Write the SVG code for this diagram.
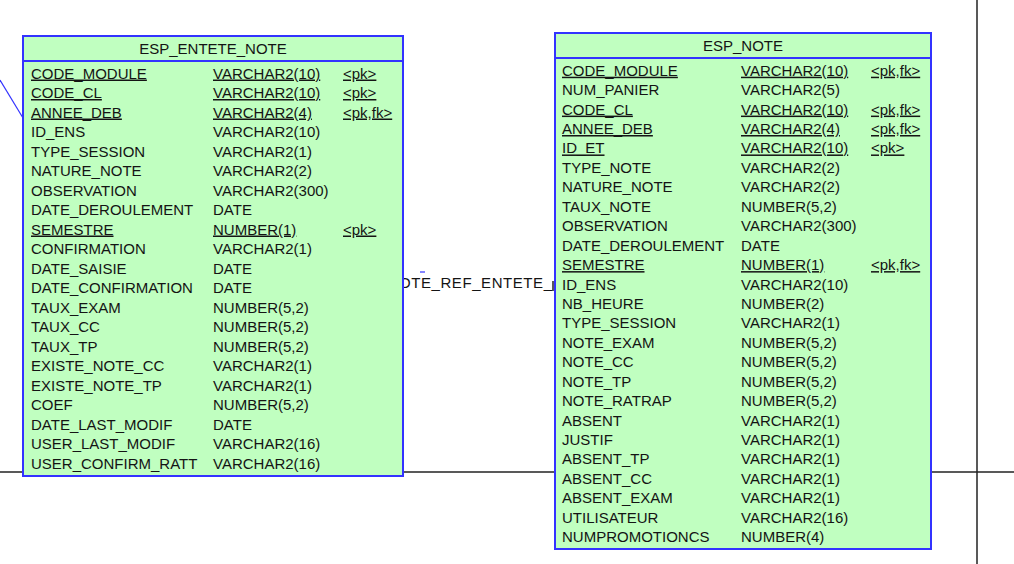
<svg xmlns="http://www.w3.org/2000/svg" width="1014" height="564" viewBox="0 0 1014 564">
<style>
text { font-family: "Liberation Sans", Arial, sans-serif; font-size: 15px; fill: #141414; }
.tbl { fill: #C0FFC0; stroke: #3333FF; stroke-width: 2; }
.div { stroke: #3333FF; stroke-width: 2; }
.k { text-decoration: underline; }
.hdr { text-anchor: middle; }
.ln { stroke: #222; stroke-width: 1.5; fill: none; }
.bl { stroke: #3333FF; stroke-width: 1.2; fill: none; }
</style>
<rect width="1014" height="564" fill="#ffffff"/>
<g id="connectors">
  <line class="ln" x1="0" y1="472" x2="1014" y2="472"/>
  <line class="ln" x1="977" y1="0" x2="977" y2="564"/>
  <line class="bl" x1="0" y1="80" x2="23" y2="118"/>
  <line class="bl" x1="420" y1="272" x2="425" y2="272"/>
  <line class="ln" x1="553" y1="281" x2="553" y2="291"/>
  <text x="399" y="288" textLength="153" lengthAdjust="spacing">OTE_REF_ENTETE_</text>
</g>
<g id="ESP_ENTETE_NOTE">
  <rect class="tbl" x="23" y="36" width="380" height="440"/>
  <line class="div" x1="23" y1="61" x2="403" y2="61"/>
  <text class="hdr" x="213" y="53.5">ESP_ENTETE_NOTE</text>
  <g transform="translate(0,78.5)">
    <text class="k" x="31" y="0">CODE_MODULE</text><text class="k" x="213" y="0">VARCHAR2(10)</text><text class="k" x="343" y="0">&lt;pk&gt;</text>
    <text class="k" x="31" y="19.5">CODE_CL</text><text class="k" x="213" y="19.5">VARCHAR2(10)</text><text class="k" x="343" y="19.5">&lt;pk&gt;</text>
    <text class="k" x="31" y="39">ANNEE_DEB</text><text class="k" x="213" y="39">VARCHAR2(4)</text><text class="k" x="343" y="39">&lt;pk,fk&gt;</text>
    <text x="31" y="58.5">ID_ENS</text><text x="213" y="58.5">VARCHAR2(10)</text>
    <text x="31" y="78">TYPE_SESSION</text><text x="213" y="78">VARCHAR2(1)</text>
    <text x="31" y="97.5">NATURE_NOTE</text><text x="213" y="97.5">VARCHAR2(2)</text>
    <text x="31" y="117">OBSERVATION</text><text x="213" y="117">VARCHAR2(300)</text>
    <text x="31" y="136.5">DATE_DEROULEMENT</text><text x="213" y="136.5">DATE</text>
    <text class="k" x="31" y="156">SEMESTRE</text><text class="k" x="213" y="156">NUMBER(1)</text><text class="k" x="343" y="156">&lt;pk&gt;</text>
    <text x="31" y="175.5">CONFIRMATION</text><text x="213" y="175.5">VARCHAR2(1)</text>
    <text x="31" y="195">DATE_SAISIE</text><text x="213" y="195">DATE</text>
    <text x="31" y="214.5">DATE_CONFIRMATION</text><text x="213" y="214.5">DATE</text>
    <text x="31" y="234">TAUX_EXAM</text><text x="213" y="234">NUMBER(5,2)</text>
    <text x="31" y="253.5">TAUX_CC</text><text x="213" y="253.5">NUMBER(5,2)</text>
    <text x="31" y="273">TAUX_TP</text><text x="213" y="273">NUMBER(5,2)</text>
    <text x="31" y="292.5">EXISTE_NOTE_CC</text><text x="213" y="292.5">VARCHAR2(1)</text>
    <text x="31" y="312">EXISTE_NOTE_TP</text><text x="213" y="312">VARCHAR2(1)</text>
    <text x="31" y="331.5">COEF</text><text x="213" y="331.5">NUMBER(5,2)</text>
    <text x="31" y="351">DATE_LAST_MODIF</text><text x="213" y="351">DATE</text>
    <text x="31" y="370.5">USER_LAST_MODIF</text><text x="213" y="370.5">VARCHAR2(16)</text>
    <text x="31" y="390">USER_CONFIRM_RATT</text><text x="213" y="390">VARCHAR2(16)</text>
  </g>
</g>
<g id="ESP_NOTE">
  <rect class="tbl" x="555" y="33" width="376" height="516"/>
  <line class="div" x1="555" y1="58" x2="931" y2="58"/>
  <text class="hdr" x="743" y="50.7">ESP_NOTE</text>
  <g transform="translate(0,75.7)">
    <text class="k" x="562" y="0">CODE_MODULE</text><text class="k" x="741" y="0">VARCHAR2(10)</text><text class="k" x="871" y="0">&lt;pk,fk&gt;</text>
    <text x="562" y="19.44">NUM_PANIER</text><text x="741" y="19.44">VARCHAR2(5)</text>
    <text class="k" x="562" y="38.88">CODE_CL</text><text class="k" x="741" y="38.88">VARCHAR2(10)</text><text class="k" x="871" y="38.88">&lt;pk,fk&gt;</text>
    <text class="k" x="562" y="58.32">ANNEE_DEB</text><text class="k" x="741" y="58.32">VARCHAR2(4)</text><text class="k" x="871" y="58.32">&lt;pk,fk&gt;</text>
    <text class="k" x="562" y="77.76">ID_ET</text><text class="k" x="741" y="77.76">VARCHAR2(10)</text><text class="k" x="871" y="77.76">&lt;pk&gt;</text>
    <text x="562" y="97.2">TYPE_NOTE</text><text x="741" y="97.2">VARCHAR2(2)</text>
    <text x="562" y="116.64">NATURE_NOTE</text><text x="741" y="116.64">VARCHAR2(2)</text>
    <text x="562" y="136.08">TAUX_NOTE</text><text x="741" y="136.08">NUMBER(5,2)</text>
    <text x="562" y="155.52">OBSERVATION</text><text x="741" y="155.52">VARCHAR2(300)</text>
    <text x="562" y="174.96">DATE_DEROULEMENT</text><text x="741" y="174.96">DATE</text>
    <text class="k" x="562" y="194.4">SEMESTRE</text><text class="k" x="741" y="194.4">NUMBER(1)</text><text class="k" x="871" y="194.4">&lt;pk,fk&gt;</text>
    <text x="562" y="213.84">ID_ENS</text><text x="741" y="213.84">VARCHAR2(10)</text>
    <text x="562" y="233.28">NB_HEURE</text><text x="741" y="233.28">NUMBER(2)</text>
    <text x="562" y="252.72">TYPE_SESSION</text><text x="741" y="252.72">VARCHAR2(1)</text>
    <text x="562" y="272.16">NOTE_EXAM</text><text x="741" y="272.16">NUMBER(5,2)</text>
    <text x="562" y="291.6">NOTE_CC</text><text x="741" y="291.6">NUMBER(5,2)</text>
    <text x="562" y="311.04">NOTE_TP</text><text x="741" y="311.04">NUMBER(5,2)</text>
    <text x="562" y="330.48">NOTE_RATRAP</text><text x="741" y="330.48">NUMBER(5,2)</text>
    <text x="562" y="349.92">ABSENT</text><text x="741" y="349.92">VARCHAR2(1)</text>
    <text x="562" y="369.36">JUSTIF</text><text x="741" y="369.36">VARCHAR2(1)</text>
    <text x="562" y="388.8">ABSENT_TP</text><text x="741" y="388.8">VARCHAR2(1)</text>
    <text x="562" y="408.24">ABSENT_CC</text><text x="741" y="408.24">VARCHAR2(1)</text>
    <text x="562" y="427.68">ABSENT_EXAM</text><text x="741" y="427.68">VARCHAR2(1)</text>
    <text x="562" y="447.12">UTILISATEUR</text><text x="741" y="447.12">VARCHAR2(16)</text>
    <text x="562" y="466.56">NUMPROMOTIONCS</text><text x="741" y="466.56">NUMBER(4)</text>
  </g>
</g>
</svg>
